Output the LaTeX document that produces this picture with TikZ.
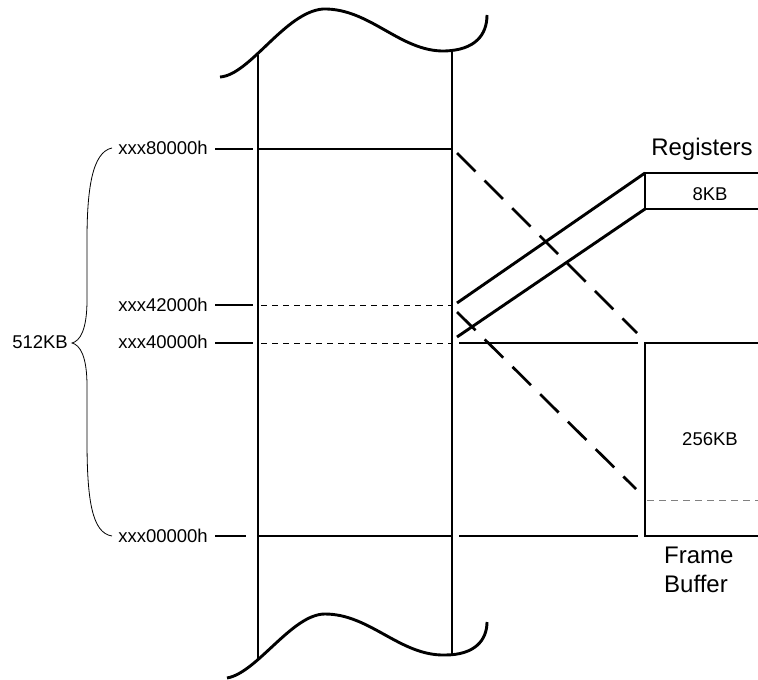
\documentclass[tikz,border=0pt]{standalone}
\usepackage{fontspec}
\setmainfont{Liberation Sans}
\tikzset{
  memline/.style={line width=2.9pt},
  tickline/.style={line width=2.9pt},
  thindash/.style={line width=1pt, dash pattern=on 6pt off 5pt},
  mapdash/.style={line width=2.7pt, dash pattern=on 26pt off 13pt},
  addr/.style={font=\fontsize{18.5}{22}\selectfont, inner sep=0pt},
  title/.style={font=\fontsize{24}{28}\selectfont, inner sep=0pt}
}
\begin{document}
\begin{tikzpicture}[x=1pt,y=-1pt]
\useasboundingbox (0,0) rectangle (758,680);
% memory column
\draw[memline] (220,77) .. controls (250,75) and (285,12) .. (323,9)
  .. controls (370,8) and (400,52) .. (445,51) .. controls (475,50) and (487,35) .. (487,15);
\draw[memline] (227,678) .. controls (257,673) and (292,614) .. (325,614)
  .. controls (370,614) and (400,656) .. (445,655) .. controls (475,655) and (487,640) .. (487,622);
\draw[memline] (258,55) -- (258,659);
\draw[memline] (452,50) -- (452,654);
% addresses
\node[addr, anchor=base east] (a80) at (208,154) {xxx80000h};
\node[addr, anchor=base east] (a42) at (208,311) {xxx42000h};
\node[addr, anchor=base east] (a40) at (208,348) {xxx40000h};
\node[addr, anchor=base east] (a00) at (208,542) {xxx00000h};
\draw[tickline] (215,149) -- (253,149);
\draw[tickline] (215,305) -- (253,305);
\draw[tickline] (215,343) -- (253,343);
\draw[tickline] (215,536) -- (246,536);
\draw[memline] (258,149) -- (452,149);
\draw[thindash] (261,305) -- (452,305);
\draw[thindash] (261,343) -- (452,343);
\draw[memline] (258,536) -- (452,536);
% brace
\draw[line width=0.8pt] (112,148) .. controls (92,152) and (87,190) .. (87,240) -- (87,300)
  .. controls (87,330) and (80,341) .. (72,343) .. controls (80,345) and (87,356) .. (87,386)
  -- (87,440) .. controls (87,500) and (92,533) .. (112,536);
\node[addr, anchor=base east] (size) at (68,348) {512KB};
% registers
\node[title, anchor=base] (reg) at (702,155) {Registers};
\draw[memline] (758,173) -- (645,173) -- (645,209) -- (758,209);
\node[addr, anchor=base] (r8k) at (710,200) {8KB};
\draw[memline] (457,303) -- (645,173);
\draw[memline] (457,337) -- (645,209);
% frame buffer
\draw[memline] (758,343) -- (645,343) -- (645,536) -- (758,536);
\draw[line width=1pt, gray, dash pattern=on 7pt off 5pt] (647,500) -- (758,500);
\node[addr, anchor=base] (fb) at (710,445) {256KB};
\node[title, anchor=base west] (fr) at (664,563) {Frame};
\node[title, anchor=base west] (bu) at (664,592) {Buffer};
\draw[memline] (459,343) -- (638,343);
\draw[memline] (459,536) -- (638,536);
% mapping
\draw[mapdash] (457,153) -- (637,333);
\draw[mapdash] (457,312) -- (636,489);
\end{tikzpicture}
\end{document}
